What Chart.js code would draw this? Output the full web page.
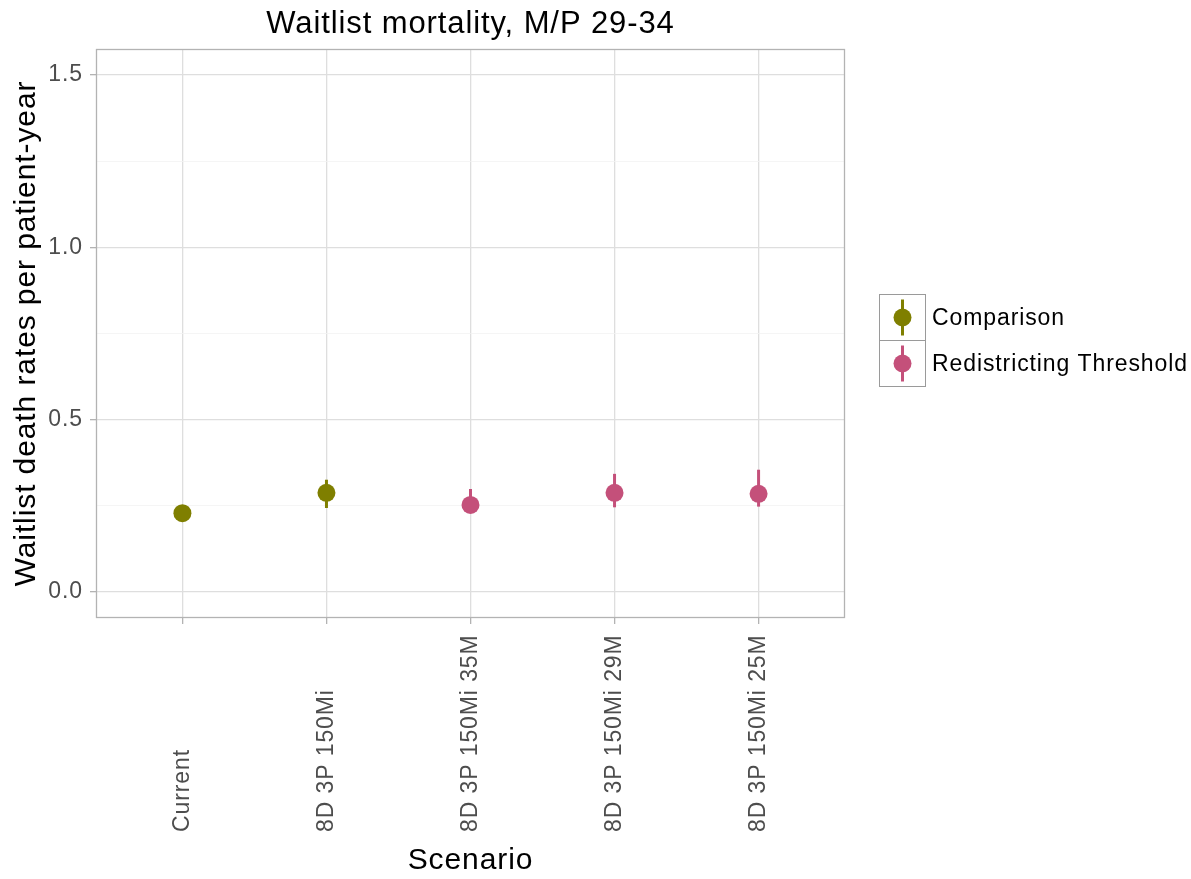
<!DOCTYPE html>
<html>
<head>
<meta charset="utf-8">
<style>
  html, body { margin: 0; padding: 0; background: #ffffff; }
  #wrap { width: 1191px; height: 879px; }
</style>
<script src="https://cdn.jsdelivr.net/npm/chart.js@4/dist/chart.umd.min.js"></script>
</head>
<body>
<div id="wrap"><canvas id="chart" width="1191" height="879"></canvas></div>
<script>
// Scenario categories and their group
const scenarios = ['Current', '8D 3P 150Mi', '8D 3P 150Mi 35M', '8D 3P 150Mi 29M', '8D 3P 150Mi 25M'];
const groups = ['Comparison', 'Comparison', 'Redistricting Threshold', 'Redistricting Threshold', 'Redistricting Threshold'];

// Waitlist death rates per patient-year with interval bounds
const rate  = [0.229, 0.288, 0.253, 0.288, 0.285];
const lower = [0.223, 0.244, 0.230, 0.246, 0.248];
const upper = [0.235, 0.326, 0.299, 0.343, 0.355];

// Y axis ticks (major get labels, minor get faint grid only)
const yTicks = [0, 0.25, 0.5, 0.75, 1.0, 1.25, 1.5];
const yMajor = [0, 0.5, 1.0, 1.5];

const groupNames = ['Comparison', 'Redistricting Threshold'];
const groupColors = { 'Comparison': '#7f7f00', 'Redistricting Threshold': '#c4507a' };

const FONT = '"Liberation Sans", Arial, sans-serif';
const SPACING = '0.9px';

const datasets = groupNames.map(g => ({
  label: g,
  data: scenarios.map((s, i) => groups[i] === g ? { x: i, y: rate[i], lo: lower[i], hi: upper[i] } : null).filter(Boolean),
  backgroundColor: groupColors[g],
  borderWidth: 0,
  pointRadius: 9,
  pointHoverRadius: 9
}));

// Slightly wider text tracking for every label on the canvas
const tracking = {
  id: 'tracking',
  beforeDraw(chart) { chart.ctx.letterSpacing = SPACING; }
};

// Vertical interval lines for each point, placed with the chart scales
const errorBars = {
  id: 'errorBars',
  beforeDatasetsDraw(chart) {
    const { ctx, scales: { x, y } } = chart;
    ctx.save();
    ctx.lineWidth = 3;
    chart.data.datasets.forEach(ds => {
      ctx.strokeStyle = ds.backgroundColor;
      ds.data.forEach(p => {
        const px = x.getPixelForValue(p.x);
        ctx.beginPath();
        ctx.moveTo(px, y.getPixelForValue(p.lo));
        ctx.lineTo(px, y.getPixelForValue(p.hi));
        ctx.stroke();
      });
    });
    ctx.restore();
  }
};

// Panel border, title, vertical category labels and boxed legend
const frame = {
  id: 'frame',
  afterDraw(chart) {
    const { ctx, chartArea: a, scales: { x } } = chart;
    ctx.save();
    ctx.letterSpacing = SPACING;
    ctx.strokeStyle = '#b3b3b3';
    ctx.lineWidth = 1.3;
    ctx.strokeRect(a.left + 0.5, a.top + 0.5, a.right - a.left - 1, a.bottom - a.top - 1);

    ctx.fillStyle = '#000000';
    ctx.font = '31px ' + FONT;
    ctx.textAlign = 'center';
    ctx.textBaseline = 'middle';
    ctx.fillText('Waitlist mortality, M/P 29-34', (a.left + a.right) / 2, 24);

    // category labels read bottom-to-top, starting from a common base line
    ctx.fillStyle = '#4d4d4d';
    ctx.font = '23px ' + FONT;
    ctx.textAlign = 'left';
    scenarios.forEach((s, i) => {
      ctx.save();
      ctx.translate(x.getPixelForValue(i), 832);
      ctx.rotate(-Math.PI / 2);
      ctx.fillText(s, 0, 0);
      ctx.restore();
    });

    const kx = 879.5, ky = 294.5, ks = 46;
    groupNames.forEach((g, i) => {
      const top = ky + i * ks;
      ctx.strokeStyle = '#9a9a9a';
      ctx.lineWidth = 1;
      ctx.strokeRect(kx, top, ks, ks);
      const cx = kx + ks / 2, cy = top + ks / 2;
      ctx.strokeStyle = groupColors[g];
      ctx.lineWidth = 3;
      ctx.beginPath();
      ctx.moveTo(cx, top + 5);
      ctx.lineTo(cx, top + ks - 5);
      ctx.stroke();
      ctx.fillStyle = groupColors[g];
      ctx.beginPath();
      ctx.arc(cx, cy, 9, 0, Math.PI * 2);
      ctx.fill();
      ctx.fillStyle = '#000000';
      ctx.font = '23px ' + FONT;
      ctx.textAlign = 'left';
      ctx.textBaseline = 'middle';
      ctx.fillText(g, 932, cy + 1);
    });
    ctx.restore();
  }
};

new Chart(document.getElementById('chart'), {
  type: 'scatter',
  data: { datasets },
  plugins: [tracking, errorBars, frame],
  options: {
    responsive: false,
    animation: false,
    layout: { padding: { top: 49, right: 346, left: 0, bottom: 0 } },
    plugins: { legend: { display: false }, title: { display: false }, tooltip: { enabled: false } },
    scales: {
      x: {
        type: 'linear',
        min: -0.6,
        max: 4.6,
        afterBuildTicks: s => { s.ticks = scenarios.map((_, i) => ({ value: i })); },
        afterFit: s => { s.height = 261; },
        border: { display: false },
        grid: { color: '#dedede', lineWidth: 1.3, tickColor: '#b3b3b3', tickLength: 6 },
        ticks: { display: false, autoSkip: false },
        title: {
          display: true,
          text: 'Scenario',
          color: '#000000',
          font: { family: FONT, size: 30 },
          padding: { top: 0, bottom: 0 }
        }
      },
      y: {
        type: 'linear',
        min: -0.075,
        max: 1.575,
        afterBuildTicks: s => { s.ticks = yTicks.map(v => ({ value: v })); },
        afterFit: s => { s.width = 96; },
        border: { display: false },
        grid: {
          color: c => yMajor.includes(c.tick && c.tick.value) ? '#dedede' : '#f3f3f3',
          lineWidth: c => yMajor.includes(c.tick && c.tick.value) ? 1.3 : 0.8,
          tickColor: c => yMajor.includes(c.tick && c.tick.value) ? '#b3b3b3' : 'rgba(0,0,0,0)',
          tickLength: 6
        },
        ticks: {
          autoSkip: false,
          padding: 7,
          color: '#4d4d4d',
          font: { family: FONT, size: 23 },
          callback: v => yMajor.includes(v) ? v.toFixed(1) : ''
        },
        title: {
          display: true,
          text: 'Waitlist death rates per patient-year',
          color: '#000000',
          font: { family: FONT, size: 30 },
          padding: { top: 9, bottom: 0 }
        }
      }
    }
  }
});
</script>
</body>
</html>
